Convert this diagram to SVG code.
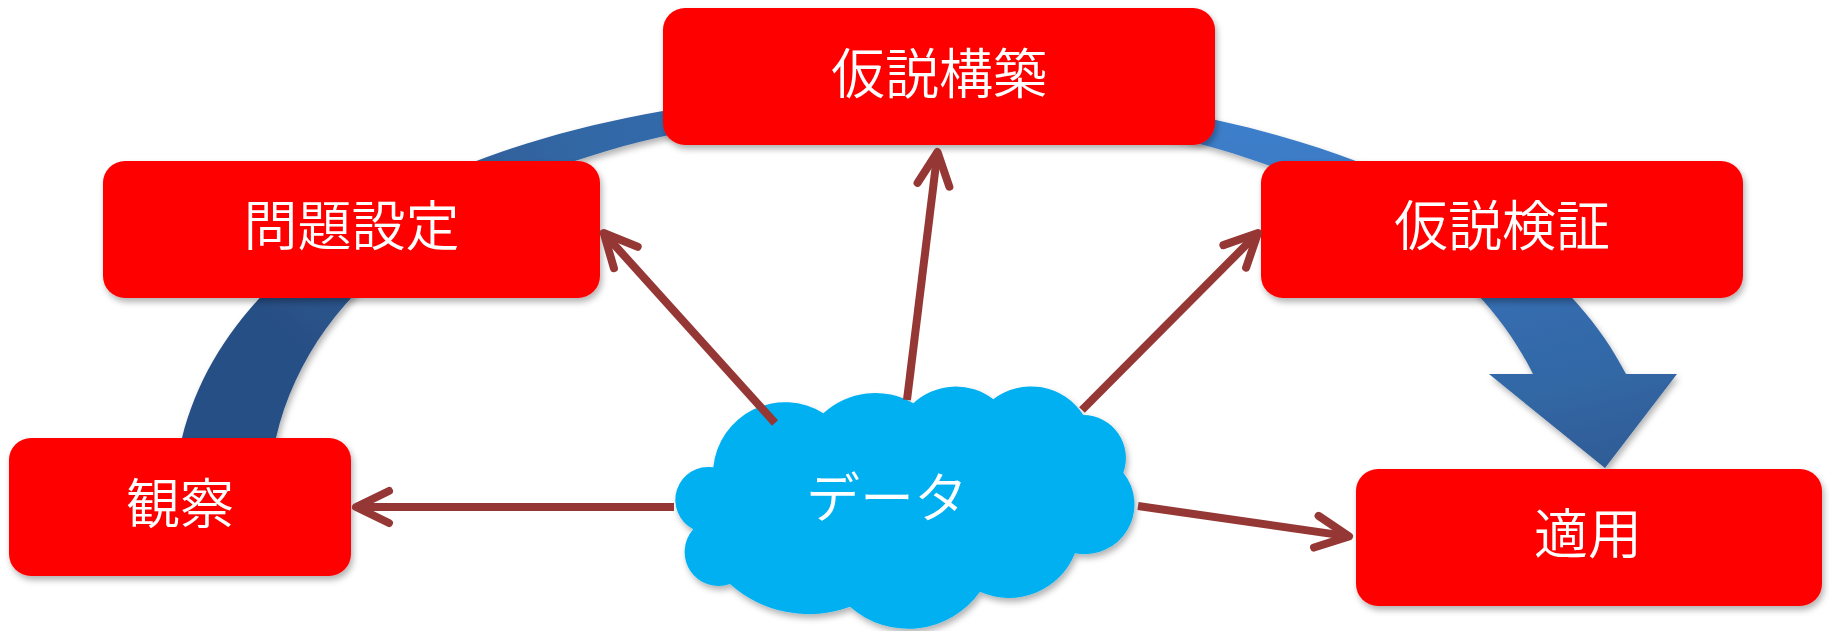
<svg xmlns="http://www.w3.org/2000/svg" width="1831" height="631" viewBox="0 0 1831 631">
  <style>
    .box { fill: #ff0000; filter: url(#sh); }
    .lbl { fill: #ffffff; font-family: "Noto Sans CJK JP", "Noto Sans CJK SC", sans-serif; font-size: 54px; font-weight: 350; text-anchor: middle; dominant-baseline: central; }
    .conn { fill: none; stroke: #953735; stroke-width: 8; marker-end: url(#open); }
  </style>
  <defs>
    <filter id="sh" x="-10%" y="-10%" width="125%" height="140%">
      <feDropShadow dx="2" dy="4" stdDeviation="3" flood-color="#000" flood-opacity="0.3"/>
    </filter>
    <radialGradient id="bandGrad" gradientUnits="userSpaceOnUse" cx="1260" cy="110" r="1100" gradientTransform="translate(1260 110) scale(1 0.4545) translate(-1260 -110)">
      <stop offset="0" stop-color="#3f80cd"/>
      <stop offset="0.45" stop-color="#356db0"/>
      <stop offset="0.64" stop-color="#3166a3"/>
      <stop offset="0.78" stop-color="#2f5c96"/>
      <stop offset="1" stop-color="#284f85"/>
    </radialGradient>
    <marker id="open" markerUnits="userSpaceOnUse" orient="auto" refX="0" refY="0" markerWidth="50" markerHeight="50" overflow="visible">
      <path d="M -33 -16 L 0 0 L -33 16" fill="none" stroke="#953735" stroke-width="8" stroke-linecap="round" stroke-linejoin="round"/>
    </marker>
  </defs>

  <g id="cycle-arrow">
    <path d="M 172,480 L 182,438 C 237,218 536,90 916,90 C 1258,90 1534,194 1626,374 L 1677,374 L 1605,468 L 1489,374 L 1533,374 C 1450,206 1211,110 916,110 C 585,110 324,231 276,438 L 272,480 Z" fill="url(#bandGrad)" filter="url(#sh)"/>
  </g>

  <g id="node-kansatsu">
    <rect class="box" x="9" y="438" width="342" height="138" rx="22"/>
    <text class="lbl" x="180" y="500">観察</text>
  </g>
  <g id="node-mondai">
    <rect class="box" x="103" y="161" width="497" height="137" rx="22"/>
    <text class="lbl" x="351.5" y="222.5">問題設定</text>
  </g>
  <g id="node-kasetsu-kouchiku">
    <rect class="box" x="663" y="8" width="552" height="137" rx="22"/>
    <text class="lbl" x="939" y="70">仮説構築</text>
  </g>
  <g id="node-kasetsu-kensho">
    <rect class="box" x="1261" y="161" width="482" height="137" rx="22"/>
    <text class="lbl" x="1502" y="222.5">仮説検証</text>
  </g>
  <g id="node-tekiyou">
    <rect class="box" x="1356" y="469" width="466" height="137" rx="22"/>
    <text class="lbl" x="1588" y="530.5">適用</text>
  </g>

  <g id="node-data">
    <path d="M 713.3,467.3 A 72 72 0 0 1 823.3,413.3 A 76 76 0 0 1 913.3,403.3 A 62 62 0 0 1 993.3,399.3 A 62 62 0 0 1 1083.3,415 A 43 43 0 0 1 1123.3,472.7 A 50 50 0 0 1 1075,553.3 A 71 71 0 0 1 980,591.7 A 88 88 0 0 1 850,606.7 A 118 118 0 0 1 730,584 A 34 34 0 0 1 693.3,529.3 A 33 33 0 0 1 713.3,467.3 Z" fill="#00b0f0" filter="url(#sh)"/>
    <text class="lbl" x="887" y="494">データ</text>
  </g>

  <g id="connectors">
    <line class="conn" x1="674" y1="507" x2="356" y2="507"/>
    <line class="conn" x1="1138" y1="506" x2="1349" y2="536.4"/>
    <line class="conn" x1="775" y1="423" x2="603.7" y2="233"/>
    <line class="conn" x1="907" y1="400" x2="937.5" y2="152"/>
    <line class="conn" x1="1082" y1="410" x2="1258" y2="233"/>
  </g>
</svg>
